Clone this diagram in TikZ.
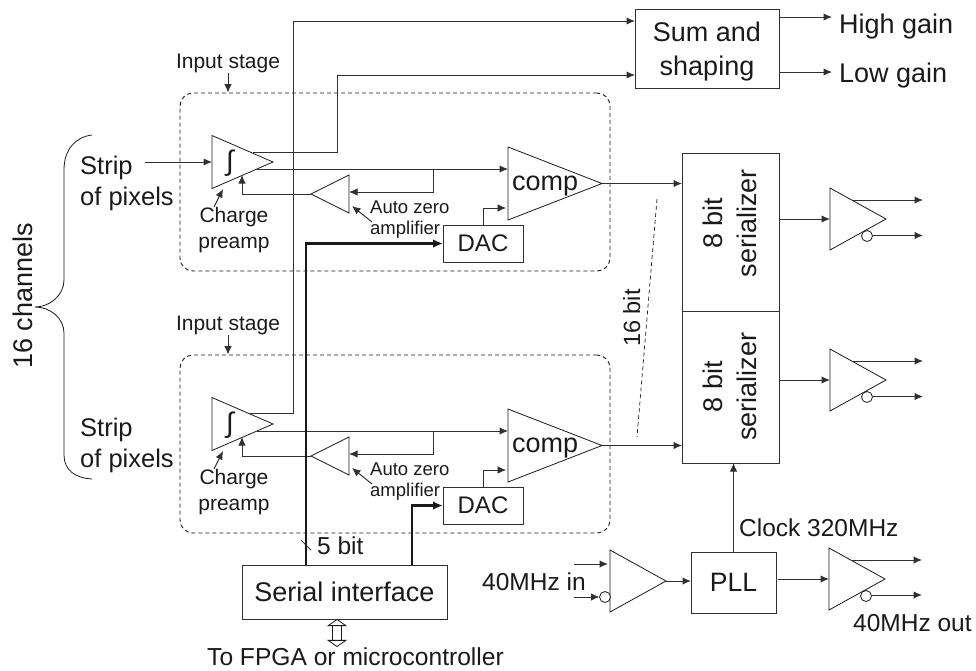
\documentclass[tikz,border=0pt]{standalone}
\usepackage{fontspec}
\setmainfont{Liberation Sans}
\usetikzlibrary{arrows.meta,positioning,shapes.geometric}
\definecolor{ink}{HTML}{1A1A1A}
\definecolor{wire}{HTML}{303030}
\tikzset{box/.style={draw=wire,line width=1pt,inner sep=0pt,outer sep=0pt,text=ink},
 amp/.style={isosceles triangle,isosceles triangle stretches,draw=ink,line width=.8pt,inner sep=0pt,outer sep=0pt,anchor=lower side},
 ampbig/.style={amp,minimum width=73pt,minimum height=94pt},
 ampbuf/.style={amp,minimum width=62pt,minimum height=56pt},
 amppre/.style={amp,minimum width=53pt,minimum height=61pt},
 ampzero/.style={amp,minimum width=38pt,minimum height=38pt,shape border rotate=180},
 bubble/.style={circle,draw=ink,fill=white,line width=.8pt,minimum size=11pt,inner sep=0pt,outer sep=0pt},
 stagebox/.style={draw=ink,line width=.9pt,dash pattern=on 4pt off 3pt,rounded corners=13pt,minimum width=430pt,minimum height=178pt,inner sep=0pt},
 bigtext/.style={font=\fontsize{27}{34}\selectfont,text=ink,inner sep=0pt,align=center},
 midtext/.style={font=\fontsize{24.5}{30}\selectfont,text=ink,inner sep=0pt},
 smalltext/.style={font=\fontsize{21}{25.7}\selectfont,text=ink,inner sep=0pt,align=center},
 tinytext/.style={font=\fontsize{18.5}{21}\selectfont,text=ink,inner sep=0pt,align=left},
 striptext/.style={font=\fontsize{25.5}{31.5}\selectfont,text=ink,inner sep=0pt,align=left,anchor=north west},
 integ/.style={font=\fontsize{28}{30}\selectfont,text=ink,inner sep=0pt},
 arr/.style={-{Latex[length=8.5pt,width=7.5pt]},line width=1pt,draw=wire},
 bus/.style={-{Latex[length=10pt,width=8.5pt]},line width=2.2pt,draw=ink},
 curly/.style={line width=.8pt,draw=ink}}

\begin{document}
\begin{tikzpicture}[x=1pt,y=-1pt]
\useasboundingbox (0,0) rectangle (976,670);

\node[box,minimum width=144pt,minimum height=79pt] (sum) at (707,48.5) {};
\node[bigtext] (sumtext) at (707,52) {Sum and\\shaping};
\coordinate (highend) at (832,17);
\coordinate (lowend) at (832,72);
\node[bigtext,anchor=base west] (highgain) at (839,33) {High gain};
\node[bigtext,anchor=base west] (lowgain) at (839,82) {Low gain};
\draw[arr] (sum.east |- highend) -- (highend);
\draw[arr] (sum.east |- lowend) -- (lowend);

\node[stagebox] (stagea) at (395,182) {};
\node[smalltext,anchor=base] (stagelaba) at (228,68) {Input stage};
\node[amppre] (preampa) at (212,162) {};
\node[integ] (intega) at (230,163) {∫};
\node[ampzero] (zeroa) at (349,194) {};
\node[ampbig] (compa) at (508,183.5) {};
\node[bigtext,anchor=base west] (comptexta) at (512,190) {comp};
\node[box,minimum width=80pt,minimum height=37pt,font=\fontsize{24}{30}\selectfont] (daca) at (483,243.5) {DAC};
\node[smalltext,anchor=north] (prelaba) at (234,207) {Charge\\preamp};
\node[tinytext,anchor=north west] (zerolaba) at (370,200.5) {Auto zero\\amplifier};
\node[striptext] (stripa) at (80,155.5) {Strip\\of pixels};
\coordinate (ina) at (145,162);
\coordinate (tapa) at (433,169);
\coordinate (risea) at (337,75);

\node[stagebox] (stageb) at (395,444) {};
\node[smalltext,anchor=base] (stagelabb) at (228,330) {Input stage};
\node[amppre] (preampb) at (212,424) {};
\node[integ] (integb) at (230,425) {∫};
\node[ampzero] (zerob) at (349,456) {};
\node[ampbig] (compb) at (508,445.5) {};
\node[bigtext,anchor=base west] (comptextb) at (512,452) {comp};
\node[box,minimum width=80pt,minimum height=37pt,font=\fontsize{24}{30}\selectfont] (dacb) at (483,505.5) {DAC};
\node[smalltext,anchor=north] (prelabb) at (234,469) {Charge\\preamp};
\node[tinytext,anchor=north west] (zerolabb) at (370,462.5) {Auto zero\\amplifier};
\node[striptext] (stripb) at (80,417.5) {Strip\\of pixels};
\coordinate (tapb) at (433,431);
\coordinate (riseb) at (293,21);

\node[box,minimum width=97pt,minimum height=158pt] (sera) at (730.5,232) {};
\node[box,minimum width=97pt,minimum height=152pt,below=0pt of sera] (serb) {};
\node[bigtext,rotate=90] (sertexta) at (729.5,223) {8 bit\\serializer};
\node[bigtext,rotate=90] (sertextb) at (729.5,386.5) {8 bit\\serializer};
\node[font=\fontsize{23.5}{28}\selectfont,text=ink,inner sep=0pt,rotate=90,anchor=base] (bitlabel) at (640,318) {16 bit};
\coordinate (dashtop) at (657,199);
\coordinate (dashbot) at (637,437);

\node[ampbuf] (bufa) at (830,219) {};
\node[bubble] (bubblea) at (867,236) {};
\coordinate (outa) at (923,200);
\coordinate (outna) at (923,235.5);
\node[ampbuf] (bufb) at (830,380) {};
\node[bubble] (bubbleb) at (867,397) {};
\coordinate (outb) at (923,361);
\coordinate (outnb) at (923,396.5);

\node[box,minimum width=205pt,minimum height=54pt,font=\fontsize{27}{34}\selectfont] (serial) at (344.5,592) {Serial interface};
\node[font=\fontsize{24.6}{30}\selectfont,text=ink,inner sep=0pt,anchor=base] (fpga) at (355.5,665) {To FPGA or microcontroller};
\node[midtext,anchor=base west] (fivebit) at (317,554) {5 bit};
\coordinate (ticktop) at (301,540);
\coordinate (tickbot) at (311,550);

\node[ampbuf] (bufin) at (610,581) {};
\node[bubble] (bubblein) at (605,597) {};
\node[midtext,anchor=base west] (inlabel) at (482,590) {40MHz in};
\coordinate (ckin) at (574,564);
\coordinate (ckinn) at (574,597);
\node[box,minimum width=85pt,minimum height=61pt,font=\fontsize{26.6}{30}\selectfont] (pll) at (733.5,582.5) {PLL};
\node[midtext,anchor=base west] (clocklabel) at (739,536.5) {Clock 320MHz};
\node[ampbuf] (bufout) at (829,579) {};
\node[bubble] (bubbleout) at (866,596) {};
\node[midtext,anchor=base west] (outlabel) at (853,631) {40MHz out};
\coordinate (ckout) at (922,560);
\coordinate (ckoutn) at (922,595);

\node[bigtext,rotate=90,anchor=base] (channels) at (32,296) {16 channels};
\draw[curly] (92,135) .. controls (75,137) and (64,150) .. (64,170) -- (64,280) .. controls (64,295) and (50,307) .. (35,307)
 .. controls (50,307) and (64,318) .. (64,333) -- (64,455) .. controls (64,470) and (75,478) .. (92,479);

\draw[arr] (stagelaba.south) -- (stagelaba.south |- stagea.north);
\draw[arr] (ina) -- (preampa.lower side);
\draw[arr,-] ([xshift=-20pt,yshift=10pt]preampa.apex) -| (risea);
\draw[arr] (risea) -- ([yshift=-26.5pt]sum.west);
\draw[arr] ([xshift=-16pt,yshift=-7pt]preampa.apex) -- ([yshift=14.5pt]compa.lower side);
\draw[arr] (tapa) |- ([yshift=2pt]zeroa.lower side);
\draw[arr] (zeroa.apex) -| ([xshift=30pt,yshift=-13pt]preampa.lower side);
\draw[arr] ([xshift=-20pt]prelaba.north) -- ([xshift=11pt,yshift=-27pt]preampa.lower side);
\draw[arr] ([xshift=2pt,yshift=-21.5pt]zerolaba.north west) -- ([xshift=3pt,yshift=-12pt]zeroa.lower side);
\draw[arr,line width=.7pt] (daca.north) |- ([xshift=-2pt,yshift=-24.5pt]compa.lower side);
\draw[arr] (compa.apex) -- (sera.west |- compa.apex);

\draw[arr] (stagelabb.south) -- (stagelabb.south |- stageb.north);
\draw[arr,-] ([xshift=-23pt,yshift=11pt]preampb.apex) -| (riseb);
\draw[arr] (riseb) -- ([yshift=27.5pt]sum.west);
\draw[arr] ([xshift=-16pt,yshift=-7pt]preampb.apex) -- ([yshift=14.5pt]compb.lower side);
\draw[arr] (tapb) |- ([yshift=2pt]zerob.lower side);
\draw[arr] (zerob.apex) -| ([xshift=30pt,yshift=-13pt]preampb.lower side);
\draw[arr] ([xshift=-20pt]prelabb.north) -- ([xshift=11pt,yshift=-27pt]preampb.lower side);
\draw[arr] ([xshift=2pt,yshift=-21.5pt]zerolabb.north west) -- ([xshift=3pt,yshift=-12pt]zerob.lower side);
\draw[arr,line width=.7pt] (dacb.north) |- ([xshift=-2pt,yshift=-24.5pt]compb.lower side);
\draw[arr] (compb.apex) -- (serb.west |- compb.apex);

\draw[bus] ([xshift=-38.5pt]serial.north) |- (daca.west);
\draw[bus] ([xshift=67.5pt]serial.north) |- (dacb.west);
\draw[line width=.7pt,draw=ink] (ticktop) -- (tickbot);
\draw[{Triangle[open,length=7pt,width=20pt,fill=white]}-{Triangle[open,length=7pt,width=20pt,fill=white]},double,double distance=8pt,line width=.8pt,draw=ink] ([xshift=-7.5pt]serial.south) -- ([xshift=-18.5pt]fpga.north);

\draw[line width=.7pt,draw=ink,dash pattern=on 4pt off 3pt] (dashtop) -- (dashbot);

\draw[arr] (sera.east |- bufa.lower side) -- (bufa.lower side);
\draw[arr] ([xshift=22pt]bufa.lower side |- outa) -- (outa);
\draw[arr] (bubblea.east |- outna) -- (outna);
\draw[arr] (serb.east |- bufb.lower side) -- (bufb.lower side);
\draw[arr] ([xshift=22pt]bufb.lower side |- outb) -- (outb);
\draw[arr] (bubbleb.east |- outnb) -- (outnb);

\draw[arr] (ckin) -- ([xshift=-2pt]bufin.lower side |- ckin);
\draw[arr] (ckinn) -- (bubblein.west);
\draw[arr] (bufin.apex) -- (pll.west |- bufin.apex);
\draw[arr] (pll.north) -- (serb.south -| pll.north);
\draw[arr] ([xshift=2pt]pll.east |- bufout.lower side) -- (bufout.lower side);
\draw[arr] ([xshift=22pt]bufout.lower side |- ckout) -- (ckout);
\draw[arr] (bubbleout.east |- ckoutn) -- (ckoutn);
\end{tikzpicture}
\end{document}
